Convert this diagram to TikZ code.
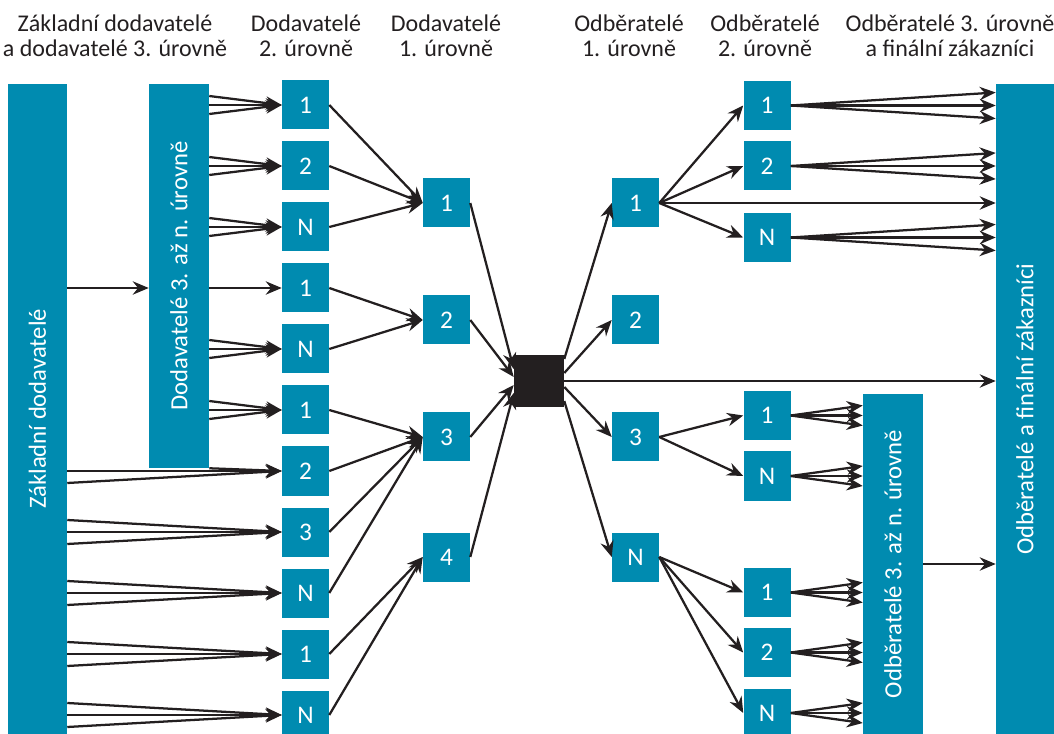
\documentclass[tikz,border=0pt]{standalone}
\usepackage{fontspec}
\setmainfont{Carlito}
\usetikzlibrary{arrows.meta,calc}
\definecolor{petrol}{HTML}{008BB0}
\definecolor{ink}{HTML}{231F20}
\begin{document}
\begin{tikzpicture}[x=0.75pt, y=-0.75pt, >={Stealth[length=12pt,width=10pt,inset=4pt]},
            font=\fontsize{18}{19}\selectfont,
            box/.style={fill=petrol, text=white, minimum width=35.25pt, minimum height=36.75pt, inner sep=0pt,
                font=\fontsize{19}{19}\selectfont},
            bar/.style={fill=petrol, text=white, inner sep=0pt, font=\fontsize{18.5}{19}\selectfont},
            head/.style={text=ink, align=center, inner sep=0pt},
            flow/.style={->, draw=ink, line width=1.7pt}]
            \useasboundingbox (0,0) rectangle (1054,734);
            \node[head] (h1) at (115,36) {Základní dodavatelé\\a dodavatelé 3. úrovně};
            \node[head] (h2) at (306,36) {Dodavatelé\\2. úrovně};
            \node[head] (h3) at (446,36) {Dodavatelé\\1. úrovně};
            \node[head] (h4) at (629,36) {Odběratelé\\1. úrovně};
            \node[head] (h5) at (765,36) {Odběratelé\\2. úrovně};
            \node[head] (h6) at (950,36) {Odběratelé 3. úrovně\\a finální zákazníci};
            \node[bar, minimum width=44.25pt, minimum height=487.5pt] (base) at (37.5,409) {\rotatebox{90}{Základní dodavatelé}};
            \node[bar, minimum width=45pt, minimum height=288pt] (sup) at (179,276) {\rotatebox{90}{Dodavatelé 3. až n. úrovně}};
            \node[bar, minimum width=45pt, minimum height=255pt] (cust) at (893,564) {\rotatebox{90}{Odběratelé 3. až n. úrovně}};
            \node[bar, minimum width=43.5pt, minimum height=487.5pt] (fin) at (1025,409) {\rotatebox{90}{Odběratelé a finální zákazníci}};
            \foreach \lab [count=\i] in {1,2,N,1,N,1,2,3,N,1,N}
                \node[box] (a\i) at (305.5,{44+61*\i}) {\lab};
            \foreach \lab/\y [count=\i] in {1/203,2/320,3/437,4/557}
                \node[box] (b\i) at (446.5,\y) {\lab};
            \foreach \lab/\y [count=\i] in {1/203,2/320,3/437,N/557}
                \node[box] (c\i) at (635.5,\y) {\lab};
            \foreach \lab/\y [count=\i] in {1/105.5,2/166,N/237.5,1/415.5,N/476,1/592.5,2/652.5,N/713}
                \node[box] (d\i) at (767,\y) {\lab};
            \node[fill=ink, minimum width=37.5pt, minimum height=39pt, inner sep=0pt] (hub) at (539,381) {};
            \draw[flow] (base.east|-a4) -- (sup.west|-a4);
            \draw[flow] (sup.east|-a4) -- (a4.west);
            \foreach \n in {1,2,3,5,6}
                \foreach \dy in {-9,0,9}
                    \draw[flow] ($(sup.east|-a\n.west)+(0,\dy)$) -- (a\n.west);
            \draw[flow] (sup.south east) -- (a7.west);
            \foreach \dy in {0,12}
                \draw[flow] ($(base.east|-a7.west)+(0,\dy)$) -- (a7.west);
            \foreach \n in {8,...,11}
                \foreach \dy in {-12,0,12}
                    \draw[flow] ($(base.east|-a\n.west)+(0,\dy)$) -- (a\n.west);
            \foreach \s/\t in {1/1,2/1,3/1,4/2,5/2,6/3,7/3,8/3,9/3,10/4,11/4}
                \draw[flow] (a\s.east) -- (b\t.west);
            \foreach \t/\dy in {1/-12,2/-4,3/4,4/12}
                \draw[flow] (b\t.east) -- ($(hub.west)+(0,\dy)$);
            \foreach \t/\dy in {1/-22,2/-8,3/6,4/20}
                \draw[flow] ($(hub.east)+(0,\dy)$) -- (c\t.west);
            \draw[flow] (hub.east) -- (fin.west|-hub.east);
            \foreach \t in {1,2,3}
                \draw[flow] (c1.east) -- (d\t.west);
            \draw[flow] (c1.east) -- (fin.west|-c1.east);
            \foreach \t in {4,5}
                \draw[flow] (c3.east) -- (d\t.west);
            \foreach \t in {6,7,8}
                \draw[flow] (c4.east) -- (d\t.west);
            \foreach \s in {1,2,3}
                \foreach \dy in {-13,0,13}
                    \draw[flow] (d\s.east) -- ($(fin.west|-d\s.east)+(0,\dy)$);
            \foreach \s in {4,...,8}
                \foreach \dy in {-10,0,10}
                    \draw[flow] (d\s.east) -- ($(cust.west|-d\s.east)+(0,\dy)$);
            \draw[flow] (cust.east) -- (fin.west|-cust.east);
        \end{tikzpicture}
\end{document}
